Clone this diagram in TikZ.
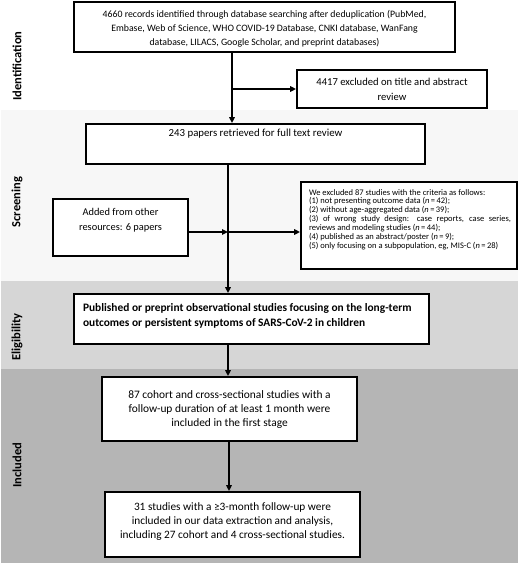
\documentclass[tikz,border=0pt]{standalone}
\usepackage{fontspec}
\setmainfont{Carlito}
\usetikzlibrary{arrows.meta}
\tikzset{
  box/.style={draw=black, line width=1.8pt, fill=white, inner sep=0pt, anchor=center},
  arr/.style={line width=1.5pt, -{Triangle[length=6pt,width=5.5pt]}},
  side/.style={rotate=90, font=\fontsize{12.5}{14}\selectfont\bfseries, anchor=center}
}
% #1 width, #2 height, #3 top pad, #4 bottom pad, #5 text
\newcommand{\tb}[5]{\parbox[c][#2pt][c]{#1pt}{\vspace*{#3pt}#5\par\vspace*{#4pt}}}
\newcommand{\fs}[2]{\fontsize{#1}{#2}\selectfont}
\begin{document}
\begin{tikzpicture}[x=1pt,y=-1pt]
\useasboundingbox (0,0) rectangle (520,567);
\fill[white] (0,0) rectangle (520,567);
% bands
\fill[black!3] (1,110) rectangle (518,281);
\fill[black!16] (1,281) rectangle (518,369);
\fill[black!29] (1,369) rectangle (518,563);
% side labels
\node[side] (lid) at (17,66) {Identification};
\node[side] (lsc) at (17,202) {Screening};
\node[side] (lel) at (17,337) {Eligibility};
\node[side] (lin) at (17,465) {Included};
% boxes
\node[box] (top) at (264.5,27) {\tb{381}{50}{4}{0}{\fs{9.8}{14}\centering 4660 records identified through database searching after deduplication (PubMed,\\ Embase, Web of Science, WHO COVID-19 Database, CNKI database, WanFang\\ database, LILACS, Google Scholar, and preprint databases)}};
\node[box] (ex1) at (392,89) {\tb{190}{38}{0}{0}{\fs{10.6}{15}\centering 4417 excluded on title and abstract\\ review}};
\node[box] (b243) at (255.5,144) {\tb{339}{40}{0}{20}{\fs{10.8}{14}\centering 243 papers retrieved for full text review}};
\node[box] (added) at (120.5,227.5) {\tb{135}{57}{0}{14}{\fs{10.4}{15}\centering Added from other\\ resources: 6 papers}};
\node[box] (ex2) at (409,225.5) {\tb{216}{87}{0}{12}{\fs{8.5}{8.9}\leftskip=8pt\rightskip=6pt\parfillskip=0pt plus 1fil\noindent We excluded 87 studies with the criteria as follows:\\
(1) not presenting outcome data (\textit{n}\,=\,42);\\
(2) without age-aggregated data (\textit{n}\,=\,39);\\
(3) of wrong study design: case reports, case series,\linebreak reviews and modeling studies (\textit{n}\,=\,44);\\
(4) published as an abstract/poster (\textit{n}\,=\,9);\\
(5) only focusing on a subpopulation, eg, MIS-C (\textit{n}\,=\,28)}};
\node[box] (elig) at (251.5,319) {\tb{355}{50}{0}{7}{\fs{11.4}{15}\bfseries\leftskip=9pt\noindent Published or preprint observational studies focusing on the long-term\\ outcomes or persistent symptoms of SARS-CoV-2 in children}};
\node[box] (b87) at (229.5,409) {\tb{255}{64}{2}{0}{\fs{11.4}{14}\centering 87 cohort and cross-sectional studies with a\\ follow-up duration of at least 1 month were\\ included in the first stage}};
\node[box] (b31) at (232.5,524.5) {\tb{255}{65}{0}{6}{\fs{11.3}{14}\centering 31 studies with a ≥3-month follow-up were\\ included in our data extraction and analysis,\\ including 27 cohort and 4 cross-sectional studies.}};
% connectors
\coordinate (s1) at (232,0);
\coordinate (s2) at (228,0);
\coordinate (s3) at (229,0);
\coordinate (j) at (228,232);
\draw[arr] (s1 |- top.south) -- (s1 |- b243.north);
\draw[arr] (s1 |- ex1.west) -- (ex1.west);
\draw[arr] (s2 |- b243.south) -- (s2 |- elig.north);
\draw[arr] (added.east |- j) -- (j);
\draw[arr] (j) -- (j -| ex2.west);
\draw[arr] (s2 |- elig.south) -- (s2 |- b87.north);
\draw[arr] (s3 |- b87.south) -- (s3 |- b31.north);
\end{tikzpicture}
\end{document}
